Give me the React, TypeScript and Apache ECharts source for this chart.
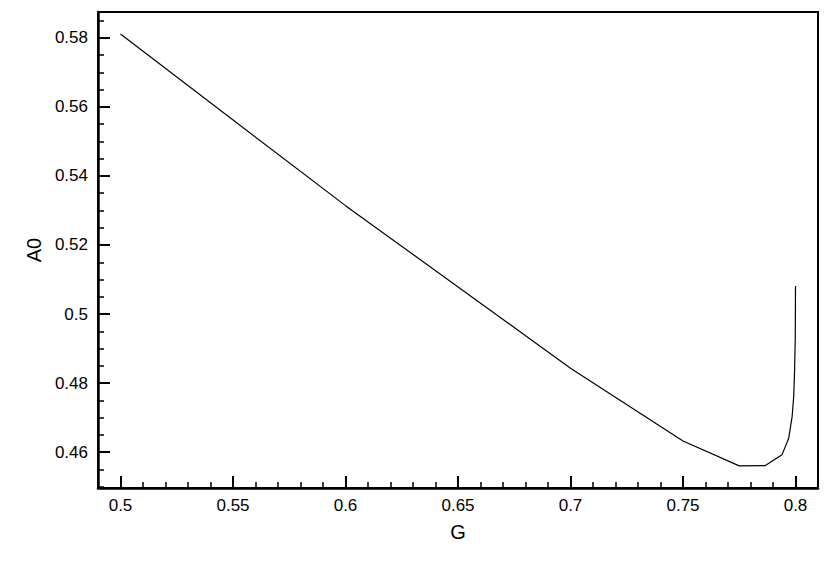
import React, { useEffect, useRef } from "react";
import * as echarts from "echarts";

const gValues = [0.5, 0.6, 0.7, 0.75, 0.775, 0.7866, 0.794, 0.797, 0.7985, 0.7992, 0.7996, 0.7999, 0.8];
const a0Values = [0.5811, 0.5314, 0.4843, 0.4632, 0.456, 0.4561, 0.4592, 0.4641, 0.4703, 0.4761, 0.4838, 0.4935, 0.5081];

const xRange = [0.49, 0.81];
const yRange = [0.4496, 0.5875];

const FONT = "'Liberation Sans', Arial, sans-serif";

export default function App() {
  const ref = useRef<HTMLDivElement>(null);
  useEffect(() => {
    if (!ref.current) return;
    const chart = echarts.init(ref.current, undefined, { renderer: "svg" });
    const data = gValues.map((g, i) => [g, a0Values[i]]);
    chart.setOption({
      animation: false,
      backgroundColor: "#fff",
      grid: {
        left: 98,
        top: 12,
        width: 720,
        height: 476,
        show: true,
        borderColor: "#000",
        borderWidth: 2,
        containLabel: false,
      },
      xAxis: [
        {
          type: "value",
          position: "bottom",
          min: xRange[0],
          max: xRange[1],
          splitNumber: 6,
          name: "G",
          nameLocation: "middle",
          nameGap: 34,
          nameTextStyle: { fontFamily: FONT, fontSize: 20, color: "#000" },
          axisLine: { show: true, lineStyle: { color: "#000", width: 2.5 } },
          axisTick: { show: true, inside: true, length: 12, lineStyle: { color: "#000", width: 2 } },
          axisLabel: {
            show: true,
            showMinLabel: false,
            showMaxLabel: false,
            margin: 9,
            fontFamily: FONT,
            fontSize: 17,
            color: "#000",
          },
          splitLine: { show: false },
        },
        {
          type: "value",
          position: "bottom",
          min: xRange[0],
          max: xRange[1],
          interval: 0.01,
          axisLine: { show: false },
          axisTick: { show: true, inside: true, length: 6, lineStyle: { color: "#000", width: 1.5 } },
          axisLabel: { show: false },
          splitLine: { show: false },
        },
      ],
      yAxis: [
        {
          type: "value",
          position: "left",
          min: yRange[0],
          max: yRange[1],
          splitNumber: 7,
          name: "A0",
          nameLocation: "middle",
          nameGap: 52,
          nameTextStyle: { fontFamily: FONT, fontSize: 20, color: "#000" },
          axisLine: { show: true, lineStyle: { color: "#000", width: 2.5 } },
          axisTick: { show: true, inside: true, length: 12, lineStyle: { color: "#000", width: 2 } },
          axisLabel: {
            show: true,
            showMinLabel: false,
            showMaxLabel: false,
            margin: 10,
            fontFamily: FONT,
            fontSize: 17,
            color: "#000",
          },
          splitLine: { show: false },
        },
        {
          type: "value",
          position: "left",
          min: yRange[0],
          max: yRange[1],
          splitNumber: 28,
          axisLine: { show: false },
          axisTick: { show: true, inside: true, length: 6, lineStyle: { color: "#000", width: 1.5 } },
          axisLabel: { show: false },
          splitLine: { show: false },
        },
      ],
      series: [
        {
          type: "line",
          xAxisIndex: 0,
          yAxisIndex: 0,
          data,
          showSymbol: false,
          symbol: "none",
          lineStyle: { color: "#000", width: 1.2 },
          itemStyle: { color: "#000" },
        },
      ],
    });
    return () => chart.dispose();
  }, []);
  return (
    <div
      ref={ref}
      style={{ position: "fixed", left: 0, top: 0, width: 830, height: 586, background: "#fff" }}
    />
  );
}
